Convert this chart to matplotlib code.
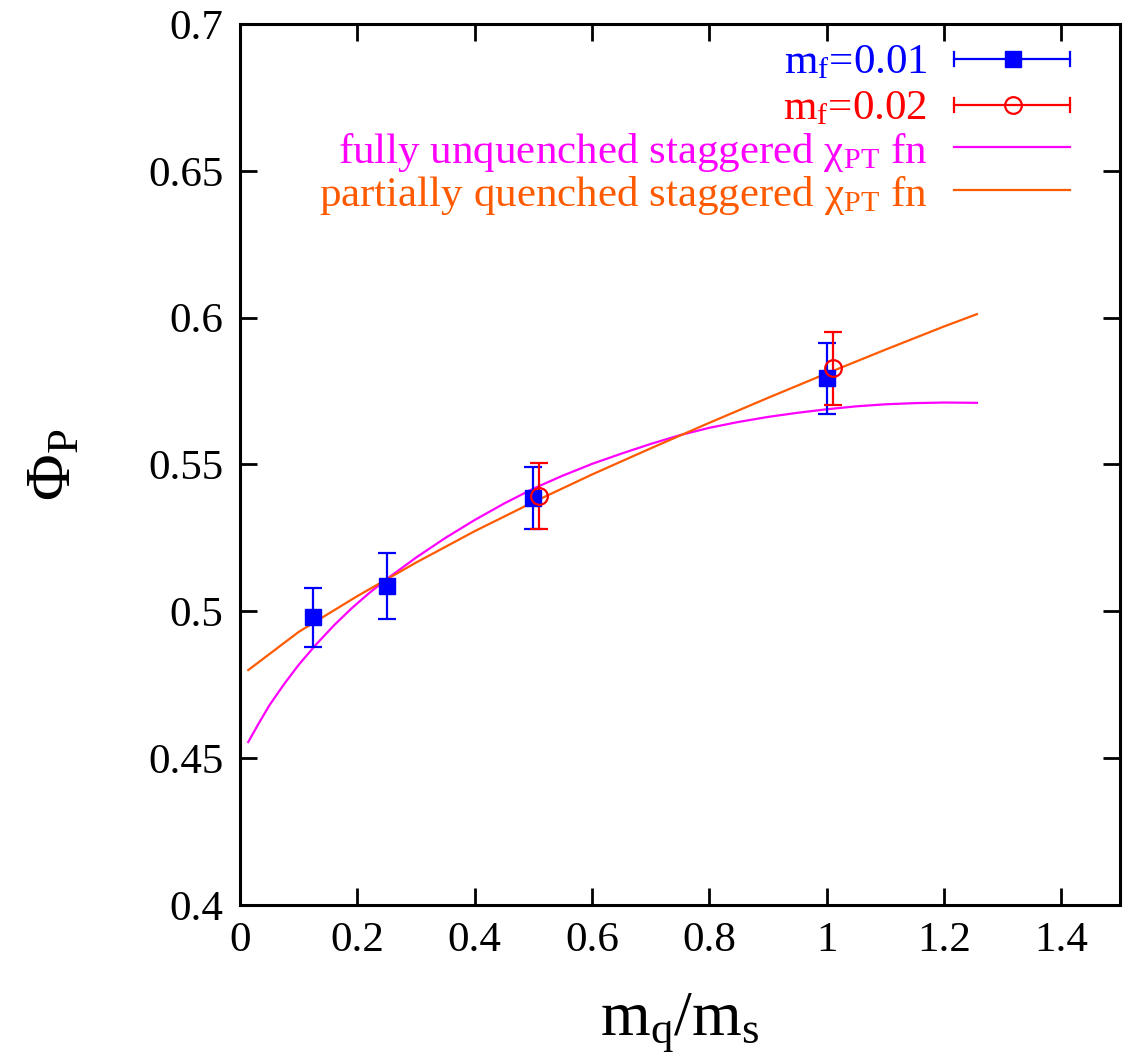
import matplotlib
matplotlib.use("Agg")
import matplotlib.pyplot as plt
from matplotlib.ticker import FuncFormatter

plt.rcParams["font.family"] = ["Liberation Serif", "DejaVu Serif"]
plt.rcParams["mathtext.fontset"] = "custom"
plt.rcParams["mathtext.rm"] = "Liberation Serif"
plt.rcParams["mathtext.it"] = "Liberation Serif:italic"

# data points
mq_01 = [0.125, 0.25, 0.5, 1.0]
phi_01 = [0.498, 0.5086, 0.5386, 0.5794]
err_01 = [0.0100, 0.0112, 0.0104, 0.0121]

mq_02 = [0.51, 1.01]
phi_02 = [0.5393, 0.5827]
err_02 = [0.0112, 0.0123]

# fit curves, sampled by eye
fu_x = [0.014, 0.03, 0.05, 0.075, 0.10, 0.13, 0.16, 0.19, 0.22, 0.25, 0.30,
        0.35, 0.40, 0.45, 0.50, 0.55, 0.60, 0.65, 0.70, 0.75, 0.80, 0.85,
        0.90, 0.95, 1.00, 1.05, 1.10, 1.15, 1.20, 1.256]
fu_y = [0.4555, 0.4612, 0.4680, 0.4752, 0.4818, 0.4888, 0.4952, 0.5010, 0.5062, 0.5110, 0.5183,
        0.5250, 0.5311, 0.5367, 0.5418, 0.5462, 0.5502, 0.5537, 0.5570, 0.5600, 0.5625, 0.5645,
        0.5662, 0.5676, 0.5688, 0.5698, 0.5705, 0.5709, 0.5711, 0.5710]

pq_x = [0.014, 0.1, 0.2, 0.3, 0.4, 0.5, 0.6, 0.7, 0.8, 0.9, 1.0, 1.1, 1.2, 1.256]
pq_y = [0.480, 0.4930, 0.5052, 0.5166, 0.5273, 0.5372, 0.5466, 0.5555, 0.5642, 0.5727,
        0.5810, 0.5891, 0.5970, 0.6012]

blue = "#0000ff"
red = "#ff0000"
magenta = "#ff00ff"
orange = "#ff5a00"

fig = plt.figure(figsize=(11.27, 10.57), dpi=100)
ax = fig.add_axes([0.213, 0.1438, 0.7808, 0.8335])

ax.plot(fu_x, fu_y, color=magenta, lw=1.6)
ax.plot(pq_x, pq_y, color=orange, lw=1.6)

ax.errorbar(mq_01, phi_01, yerr=err_01, fmt="s", color=blue, ms=11,
            elinewidth=1.6, capsize=6.5, capthick=1.6)
ax.errorbar(mq_02, phi_02, yerr=err_02, fmt="o", color=red, mfc="none", ms=12,
            mew=1.6, elinewidth=1.6, capsize=6.5, capthick=1.6)

ax.set_xlim(0, 1.5)
ax.set_ylim(0.4, 0.7)
ax.set_xticks([0, 0.2, 0.4, 0.6, 0.8, 1.0, 1.2, 1.4])
ax.set_yticks([0.4, 0.45, 0.5, 0.55, 0.6, 0.65, 0.7])
ax.xaxis.set_major_formatter(FuncFormatter(lambda v, p: f"{v:g}"))
ax.yaxis.set_major_formatter(FuncFormatter(lambda v, p: f"{v:g}"))
ax.tick_params(direction="in", length=12, width=2, labelsize=31,
               top=True, right=True, pad=12)
for s in ax.spines.values():
    s.set_linewidth(2.2)

ax.set_xlabel(r"m$_\mathrm{q}$/m$_\mathrm{s}$", fontsize=46, labelpad=22)
ax.set_ylabel("Φ$_\\mathrm{P}$", fontsize=46, labelpad=46)

# gnuplot style key: text right aligned, sample on the right
keys = [
    (r"m$_\mathrm{f}$=0.01", blue, "s"),
    (r"m$_\mathrm{f}$=0.02", red, "o"),
    ("fully unquenched staggered χ$_\\mathrm{PT}$ fn", magenta, None),
    ("partially quenched staggered χ$_\\mathrm{PT}$ fn", orange, None),
]
rows = [0.9603, 0.908, 0.860, 0.8116]
x0, x1, xm, xt = 0.8114, 0.943, 0.878, 0.781
tr = ax.transAxes
for (label, col, mk), yr in zip(keys, rows):
    ax.text(xt, yr, label, transform=tr, ha="right", va="center_baseline",
            color=col, fontsize=31)
    ax.plot([x0, x1], [yr, yr], transform=tr, color=col, lw=1.6, clip_on=False)
    if mk is not None:
        ax.plot([x0, x0], [yr - 0.008, yr + 0.008], transform=tr, color=col, lw=1.6)
        ax.plot([x1, x1], [yr - 0.008, yr + 0.008], transform=tr, color=col, lw=1.6)
        if mk == "s":
            ax.plot([xm], [yr], "s", transform=tr, color=col, ms=11)
        else:
            ax.plot([xm], [yr], "o", transform=tr, color=col, mfc="none", ms=12, mew=1.6)

fig.savefig("out.png", dpi=100)
